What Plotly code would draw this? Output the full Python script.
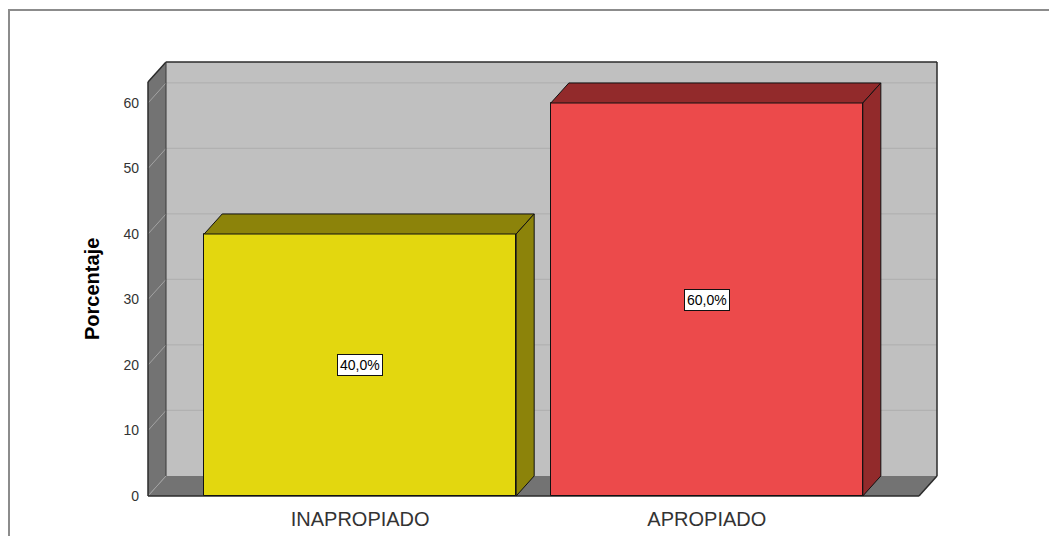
import plotly.graph_objects as go

# ---------------- data ----------------
categories = ["INAPROPIADO", "APROPIADO"]
percentages = [40.0, 60.0]
value_labels = ["40,0%", "60,0%"]
y_tick_values = [0, 10, 20, 30, 40, 50, 60]
y_tick_labels = ["0", "10", "20", "30", "40", "50", "60"]
y_title = "Porcentaje"

# ---------------- styles ----------------
front_colors = ["#e3d70f", "#ec4a4b"]
side_colors = ["#8c830a", "#922a2b"]
wall_color = "#c0c0c0"
panel_color = "#737373"
edge_color = "#2b2b2b"

W, H = 1057, 536
BODY = 8                      # browser default body margin offset
bar_width = 0.9
x0, x1 = -0.612, 1.612        # front floor extent (x units)
dx, dy = 0.052, 3.06          # 3D depth offset in data units
ytop = 63.2                   # top of front axis
pad_px = 3

# pixel box (on screen) of the full 3D frame
left_px, right_px, top_px, bottom_px = 148, 937, 62, 496
sx = (right_px - left_px) / (x1 + dx - x0)
sy = (bottom_px - top_px) / (ytop + dy)
xr = [x0 - pad_px / sx, x1 + dx + pad_px / sx]
yr = [-pad_px / sy, ytop + dy + pad_px / sy]
# figure coords = screen coords - BODY
ml = left_px - pad_px - BODY
mt = top_px - pad_px - BODY
pw = (right_px - left_px) + 2 * pad_px
ph = (bottom_px - top_px) + 2 * pad_px
mr = W - ml - pw
mb = H - mt - ph

fig = go.Figure()
shapes = []


def poly(xs, ys, fill, layer="below"):
    path = "M " + " L ".join(f"{a},{b}" for a, b in zip(xs, ys)) + " Z"
    shapes.append(dict(type="path", path=path, xref="x", yref="y", fillcolor=fill,
                       line=dict(color=fill, width=0), layer=layer))


def seg(xa, ya, xb, yb, color, lw=1, layer="below"):
    shapes.append(dict(type="line", x0=xa, y0=ya, x1=xb, y1=yb, xref="x", yref="y",
                       line=dict(color=color, width=lw), layer=layer))


# back wall
poly([x0 + dx, x1 + dx, x1 + dx, x0 + dx], [dy, dy, ytop + dy, ytop + dy], wall_color)
for v in y_tick_values[1:]:
    seg(x0 + dx, v + dy, x1 + dx, v + dy, "#b1b1b1", 1.2)
# left side panel
poly([x0, x0 + dx, x0 + dx, x0], [0, dy, ytop + dy, ytop], panel_color)
for v in y_tick_values[1:]:
    seg(x0, v, x0 + dx, v + dy, "#a3a3a3", 1)
# floor
poly([x0, x0 + dx, x1 + dx, x1], [0, dy, dy, 0], panel_color)
seg(x0, 0, x0 + dx, dy, "#a3a3a3", 1)
# frame edges
seg(x0, 0, x0, ytop, edge_color, 1.5)
seg(x0, ytop, x0 + dx, ytop + dy, edge_color, 1.5)
seg(x0 + dx, ytop + dy, x1 + dx, ytop + dy, edge_color, 1.5)
seg(x1 + dx, ytop + dy, x1 + dx, dy, edge_color, 1.5)
seg(x1 + dx, dy, x1, 0, edge_color, 1.5)
seg(x1, 0, x0, 0, edge_color, 1.5)
seg(x0 + dx, dy, x0 + dx, ytop + dy, "#3a3a3a", 1)

# front faces of bars
xs_cat = list(range(len(categories)))
fig.add_trace(go.Bar(x=xs_cat, y=percentages, width=bar_width,
                     marker=dict(color=front_colors, line=dict(color="#111111", width=1)),
                     hoverinfo="skip", showlegend=False))

# top and side faces
for i, v in enumerate(percentages):
    xl, xrr = xs_cat[i] - bar_width / 2, xs_cat[i] + bar_width / 2
    fig.add_trace(go.Scatter(x=[xl, xl + dx, xrr + dx, xrr, xl], y=[v, v + dy, v + dy, v, v],
                             fill="toself", fillcolor=side_colors[i], mode="lines",
                             line=dict(color="#111111", width=1), hoverinfo="skip",
                             showlegend=False))
    fig.add_trace(go.Scatter(x=[xrr, xrr + dx, xrr + dx, xrr, xrr], y=[0, dy, v + dy, v, 0],
                             fill="toself", fillcolor=side_colors[i], mode="lines",
                             line=dict(color="#111111", width=1), hoverinfo="skip",
                             showlegend=False))


def px_to_paper_x(p):
    return (p - BODY - ml) / pw


def px_to_paper_y(p):
    return (H - mb - (p - BODY)) / ph


annotations = []
for i, v in enumerate(percentages):
    annotations.append(dict(x=xs_cat[i], y=v / 2, xref="x", yref="y", text=value_labels[i],
                            showarrow=False, bgcolor="white", bordercolor="#111111",
                            borderwidth=1, borderpad=2,
                            font=dict(family="Arial, Liberation Sans", size=14, color="black")))

# y axis title
annotations.append(dict(x=px_to_paper_x(92), y=px_to_paper_y(289), xref="paper", yref="paper",
                        text=f"<b>{y_title}</b>", textangle=-90, showarrow=False,
                        xanchor="center", yanchor="middle",
                        font=dict(family="Arial, Liberation Sans", size=20, color="black")))

# outer frame
shapes.append(dict(type="rect", xref="paper", yref="paper",
                   x0=px_to_paper_x(9), x1=px_to_paper_x(1080),
                   y0=px_to_paper_y(570), y1=px_to_paper_y(10),
                   line=dict(color="#8c8c8c", width=2), fillcolor="rgba(0,0,0,0)", layer="above"))

fig.update_layout(
    width=W, height=H,
    margin=dict(l=ml, r=mr, t=mt, b=mb, autoexpand=False),
    paper_bgcolor="white", plot_bgcolor="white",
    shapes=shapes, annotations=annotations,
    bargap=0,
    xaxis=dict(range=xr, tickvals=xs_cat, ticktext=categories, showgrid=False,
               zeroline=False, showline=False, ticks="", ticklabelstandoff=6,
               tickfont=dict(family="Arial, Liberation Sans", size=20, color="#333333"),
               fixedrange=True),
    yaxis=dict(range=yr, tickvals=y_tick_values, ticktext=y_tick_labels, showgrid=False,
               zeroline=False, showline=False, ticks="", ticklabelstandoff=5,
               tickfont=dict(family="Arial, Liberation Sans", size=14, color="#333333"),
               fixedrange=True),
)

fig.write_html("out.html")
